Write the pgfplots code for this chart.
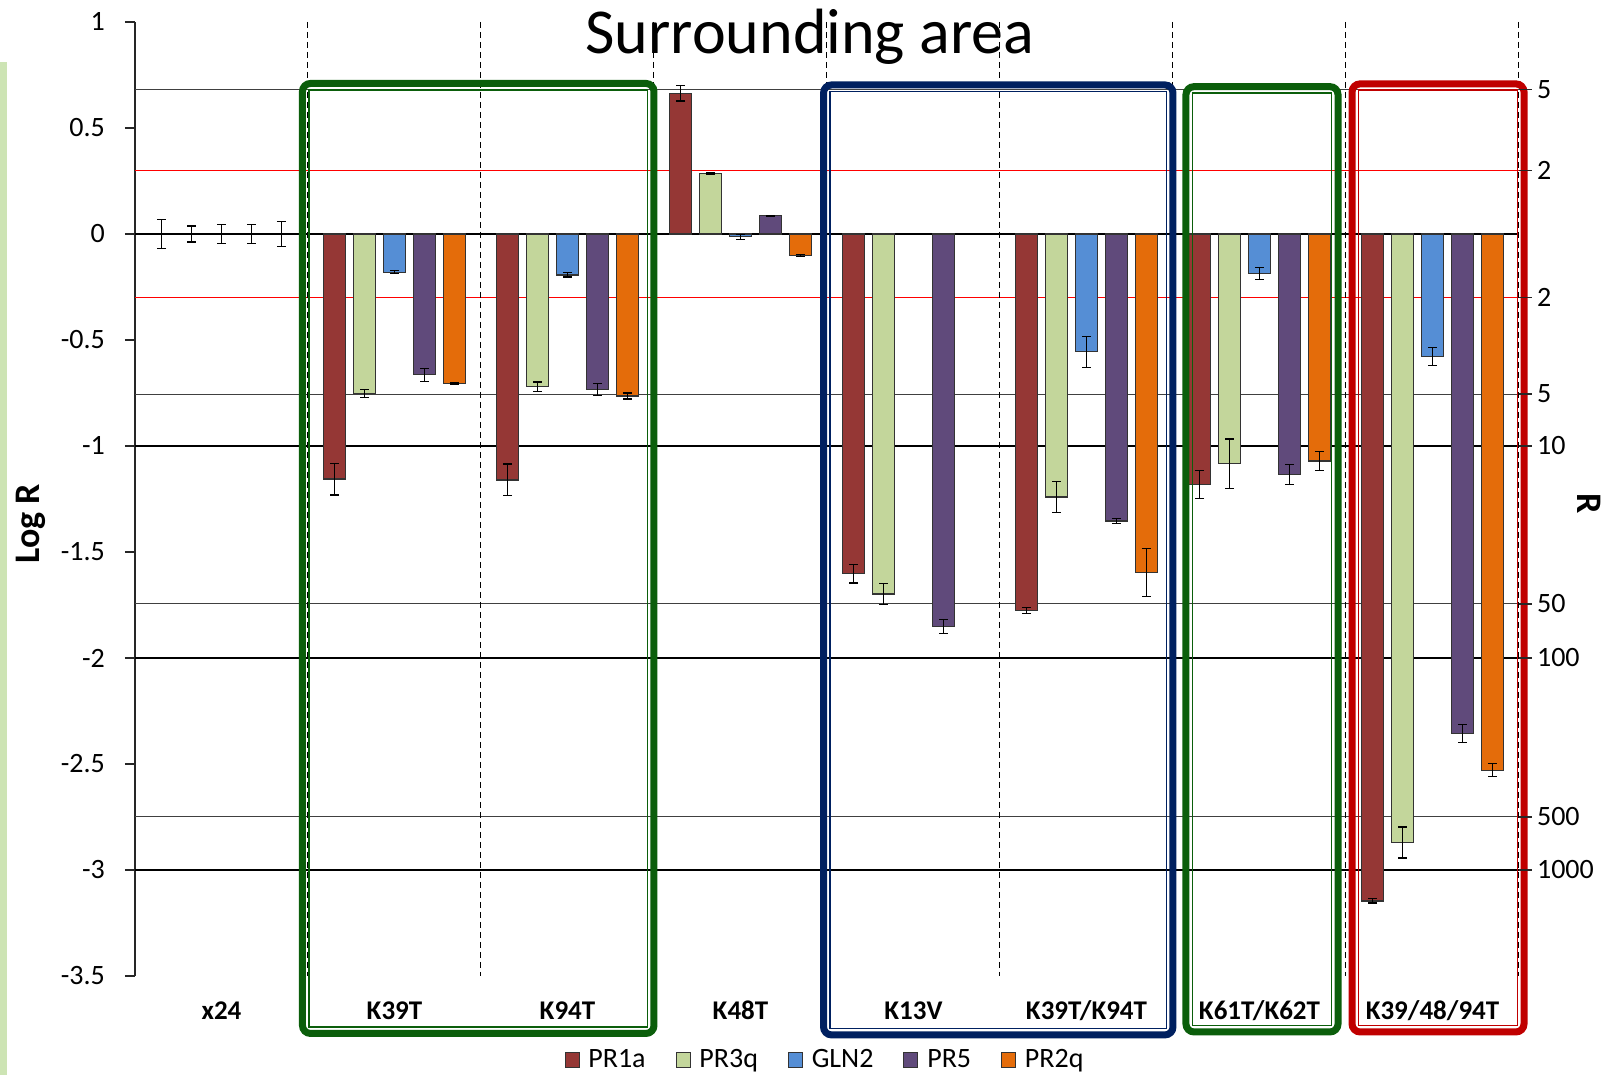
\documentclass[border=0pt]{standalone}
\usepackage{fontspec}
\setmainfont{Carlito}
\usepackage{pgfplots}
\pgfplotsset{compat=1.18}
\usepackage{pgfplotstable}

\definecolor{cA}{RGB}{149,55,53}
\definecolor{cB}{RGB}{195,214,155}
\definecolor{cC}{RGB}{85,142,213}
\definecolor{cD}{RGB}{96,74,123}
\definecolor{cE}{RGB}{228,108,10}
\definecolor{gbox}{RGB}{11,94,11}
\definecolor{bbox}{RGB}{0,32,96}
\definecolor{rbox}{RGB}{192,0,0}
\definecolor{stripe}{RGB}{205,228,180}

\pgfplotstableread{
x  a      ea     b      eb     c      ec     d      ed     e      ee
1  -1.156 0.075  -0.752 0.019  -0.180 0.008  -0.664 0.030  -0.704 0.004
2  -1.160 0.075  -0.720 0.022  -0.193 0.010  -0.733 0.028  -0.764 0.014
3  0.664  0.037  0.286  0.003  -0.013 0.012  0.086  0.003  -0.102 0.005
4  -1.603 0.043  -1.698 0.049  nan    nan    -1.852 0.034  nan    nan
5  -1.776 0.014  -1.241 0.073  -0.556 0.074  -1.354 0.013  -1.597 0.113
6  -1.181 0.067  -1.083 0.116  -0.186 0.029  -1.135 0.046  -1.071 0.046
7  -3.146 0.010  -2.870 0.073  -0.578 0.044  -2.357 0.042  -2.529 0.030
}\data

\pgfplotstableread{
x       y   e
-0.346  0   0.070
-0.173  0   0.038
0       0   0.044
0.173   0   0.044
0.346   0   0.060
}\ctrl

\pgfplotsset{
  sq legend/.style={legend image code/.code={\draw[##1] (0pt,-3.7pt) rectangle (7pt,3.7pt);}},
  myerr/.style={
    error bars/y dir=both, error bars/y explicit,
    error bars/error bar style={draw=black, line width=0.6pt},
    error bars/error mark options={draw=black, line width=0.6pt, mark size=2.2pt, rotate=90}},
  mybar/.style={ybar, bar width=11pt, bar shift=0pt, draw=black!80, line width=0.6pt, myerr},
}

\begin{document}
\begin{tikzpicture}
\useasboundingbox (0,0) rectangle (809.5pt,537.5pt);
\fill[stripe] (0,0) rectangle (3.5pt,506.5pt);
\begin{axis}[
  at={(67.5pt,49.5pt)}, anchor=south west,
  scale only axis, width=692pt, height=477pt,
  xmin=-0.5, xmax=7.5, ymin=-3.5, ymax=1,
  clip=false,
  axis y line*=left, axis x line*=bottom,
  x axis line style={draw=none},
  y axis line style={black!85, line width=0.6pt, -},
  xtick={0,...,7},
  xticklabels={x24,K39T,K94T,K48T,K13V,K39T/K94T,K61T/K62T,K39/48/94T},
  xtick style={draw=none},
  xticklabel style={font=\fontsize{13.5}{16}\selectfont\bfseries, anchor=base, yshift=-17pt},
  ytick={-3.5,-3,-2.5,-2,-1.5,-1,-0.5,0,0.5,1},
  yticklabels={-3.5,-3,-2.5,-2,-1.5,-1,-0.5,0,0.5,1},
  ytick style={black!85, line width=0.6pt},
  tick align=outside, major tick length=5pt,
  yticklabel style={font=\fontsize{14}{16}\selectfont, xshift=-6.5pt},
  ylabel={Log R},
  ylabel style={font=\fontsize{18}{20}\selectfont\bfseries, at={(axis description cs:-0.075,0.474)}, anchor=center},
  legend style={at={(axis description cs:0.4993,-0.088)}, anchor=center, draw=none, fill=none,
    font=\fontsize{14}{16}\selectfont, legend columns=5,
    /tikz/every odd column/.append style={column sep=2.5pt},
    /tikz/every even column/.append style={column sep=13pt}},
]
% reference lines
\draw[black!75, line width=0.5pt] (axis cs:-0.5,0.68) -- (axis cs:7.5,0.68);
\draw[black!75, line width=0.5pt] (axis cs:-0.5,-0.755) -- (axis cs:7.5,-0.755);
\draw[black!75, line width=0.5pt] (axis cs:-0.5,-1.745) -- (axis cs:7.5,-1.745);
\draw[black!75, line width=0.5pt] (axis cs:-0.5,-2.75) -- (axis cs:7.5,-2.75);
\draw[black, line width=1.1pt] (axis cs:-0.5,-1) -- (axis cs:7.5,-1);
\draw[black, line width=1.1pt] (axis cs:-0.5,-2) -- (axis cs:7.5,-2);
\draw[black, line width=1.1pt] (axis cs:-0.5,-3) -- (axis cs:7.5,-3);
\draw[red, line width=0.6pt] (axis cs:-0.5,0.3) -- (axis cs:7.5,0.3);
\draw[red, line width=0.6pt] (axis cs:-0.5,-0.3) -- (axis cs:7.5,-0.3);
\draw[black, line width=0.6pt] (axis cs:-0.5,0) -- (axis cs:7.5,0);
\foreach \k in {0.5,1.5,2.5,3.5,4.5,5.5,6.5,7.5}{
  \edef\tmp{\noexpand\draw[black, line width=0.5pt, dash pattern=on 3pt off 2pt] (axis cs:\k,1) -- (axis cs:\k,-3.5);}\tmp
}

% control error bars
\addplot[draw=none, mark=none, forget plot, myerr]
  table[x=x, y=y, y error=e] {\ctrl};

\addplot[mybar, fill=cA, forget plot] table[x expr=\thisrow{x}-0.346, y=a, y error=ea] {\data};
\addplot[mybar, fill=cB, forget plot] table[x expr=\thisrow{x}-0.173, y=b, y error=eb] {\data};
\addplot[mybar, fill=cC, forget plot] table[x expr=\thisrow{x}, y=c, y error=ec] {\data};
\addplot[mybar, fill=cD, forget plot] table[x expr=\thisrow{x}+0.173, y=d, y error=ed] {\data};
\addplot[mybar, fill=cE, forget plot] table[x expr=\thisrow{x}+0.346, y=e, y error=ee] {\data};

\addlegendimage{sq legend, fill=cA, draw=black!80}
\addlegendentry{PR1a}
\addlegendimage{sq legend, fill=cB, draw=black!80}
\addlegendentry{PR3q}
\addlegendimage{sq legend, fill=cC, draw=black!80}
\addlegendentry{GLN2}
\addlegendimage{sq legend, fill=cD, draw=black!80}
\addlegendentry{PR5}
\addlegendimage{sq legend, fill=cE, draw=black!80}
\addlegendentry{PR2q}

% boxes
\draw[gbox, line width=3.5pt, rounded corners=4pt] (axis cs:0.468,0.71) rectangle (axis cs:2.5,-3.771);
\draw[gbox, line width=0.8pt] ([xshift=3.2pt,yshift=-3.2pt]axis cs:0.468,0.71) rectangle ([xshift=-3.2pt,yshift=3.2pt]axis cs:2.5,-3.771);
\draw[bbox, line width=3.5pt, rounded corners=4pt] (axis cs:3.48,0.703) rectangle (axis cs:5.5,-3.778);
\draw[bbox, line width=0.8pt] ([xshift=3.2pt,yshift=-3.2pt]axis cs:3.48,0.703) rectangle ([xshift=-3.2pt,yshift=3.2pt]axis cs:5.5,-3.778);
\draw[gbox, line width=3.5pt, rounded corners=4pt] (axis cs:5.575,0.695) rectangle (axis cs:6.454,-3.764);
\draw[gbox, line width=0.8pt] ([xshift=3.2pt,yshift=-3.2pt]axis cs:5.575,0.695) rectangle ([xshift=-3.2pt,yshift=3.2pt]axis cs:6.454,-3.764);
\draw[rbox, line width=3.5pt, rounded corners=4pt] (axis cs:6.535,0.708) rectangle (axis cs:7.529,-3.764);
\draw[rbox, line width=0.8pt] ([xshift=3.2pt,yshift=-3.2pt]axis cs:6.535,0.708) rectangle ([xshift=-3.2pt,yshift=3.2pt]axis cs:7.529,-3.764);

\node[font=\fontsize{32}{36}\selectfont, anchor=base] at (axis description cs:0.4877,0.9665) {Surrounding area};
\node[font=\fontsize{18}{20}\selectfont\bfseries, rotate=-90] at (axis description cs:1.051,0.495) {R};
\end{axis}

\begin{axis}[
  at={(67.5pt,49.5pt)}, anchor=south west,
  scale only axis, width=692pt, height=477pt,
  xmin=-0.5, xmax=7.5, ymin=-3.5, ymax=1,
  hide x axis,
  axis y line*=right,
  y axis line style={draw=none},
  ytick={-3,-2.75,-2,-1.745,-1,-0.755,-0.3,0.3,0.68},
  yticklabels={1000,500,100,50,10,5,2,2,5},
  ytick style={black!85, line width=0.6pt},
  tick align=outside, major tick length=6.5pt,
  yticklabel style={font=\fontsize{14}{16}\selectfont, anchor=west, xshift=-1pt},
]
\addplot[draw=none, forget plot] coordinates {(0,0)};
\end{axis}
\end{tikzpicture}
\end{document}
